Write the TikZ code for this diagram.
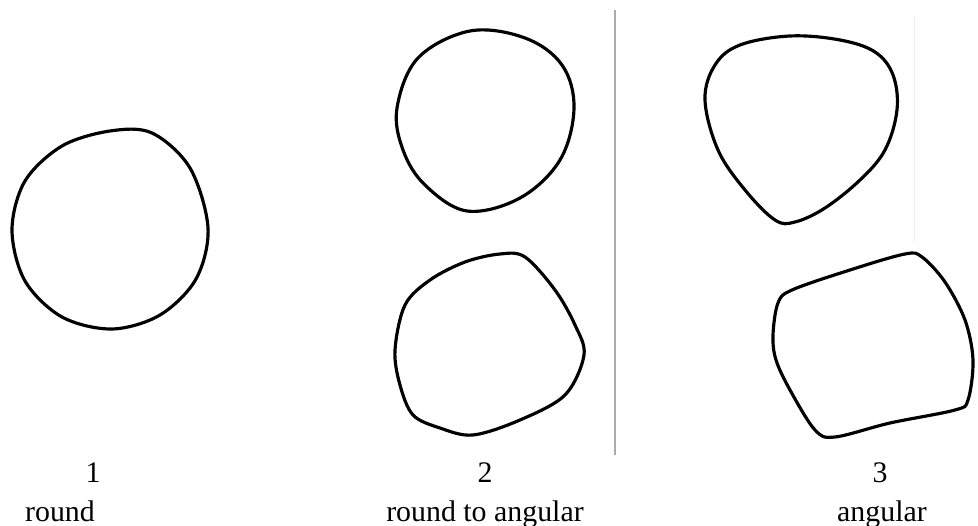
\documentclass[tikz,border=0pt]{standalone}
\usepackage{fontspec}
\setmainfont{Liberation Serif}
\usetikzlibrary{positioning}

\begin{document}
\begin{tikzpicture}[
  x=0.02cm, y=-0.02cm,
  outline/.style={line width=1.8pt, line join=round, black},
  divider/.style={line width=0.8pt, gray!65},
  faint/.style={line width=0.5pt, gray!15},
  numlabel/.style={font=\fontsize{17}{20}\selectfont, anchor=base, inner sep=0pt},
  caption/.style={font=\fontsize{17}{20}\selectfont, anchor=base, inner sep=0pt}
]
  \useasboundingbox (0,0) rectangle (978,526);

  % 1: round
  \draw[outline] plot[smooth cycle, tension=0.55] coordinates {
    (208,228) (196,279) (160,315) (112,329) (62,317) (25,281) (12,230)
    (25,181) (62,146) (110,131) (152,133) (190,168)};

  % 2: round to angular
  \draw[outline] plot[smooth cycle, tension=0.6] coordinates {
    (397,108) (418,58) (470,31) (525,38) (562,65) (574,108)
    (560,160) (520,198) (467,211) (425,185) (403,150)};
  \draw[outline] plot[smooth cycle, tension=0.55] coordinates {
    (395,350) (405,305) (430,280) (465,262) (500,254) (525,257) (555,290)
    (575,325) (584,355) (565,395) (520,420) (473,435) (440,428) (413,415) (400,385)};

  % separator
  \draw[divider] (615,10) -- (615,455);
  \draw[faint] (914,17) -- (914,242);

  % 3: angular
  \draw[outline] plot[smooth cycle, tension=0.6] coordinates {
    (705,100) (715,65) (740,45) (790,36) (840,40) (875,52) (893,75) (897,110)
    (885,150) (860,180) (825,208) (795,222) (775,220) (745,190) (718,150)};
  \draw[outline] plot[smooth cycle, tension=0.55] coordinates {
    (773,335) (778,303) (792,290) (850,270) (905,254) (922,257) (945,282)
    (965,320) (973,360) (968,400) (955,410) (890,423) (835,437) (815,430)
    (790,390) (776,360)};

  % captions
  \node[numlabel] (n1) at (93,483) {1};
  \node[caption] (c1) at (60,522) {round};
  \node[numlabel] (n2) at (485,483) {2};
  \node[caption] (c2) at (485,522) {round to angular};
  \node[numlabel] (n3) at (880,483) {3};
  \node[caption] (c3) at (882,522) {angular};
\end{tikzpicture}
\end{document}
